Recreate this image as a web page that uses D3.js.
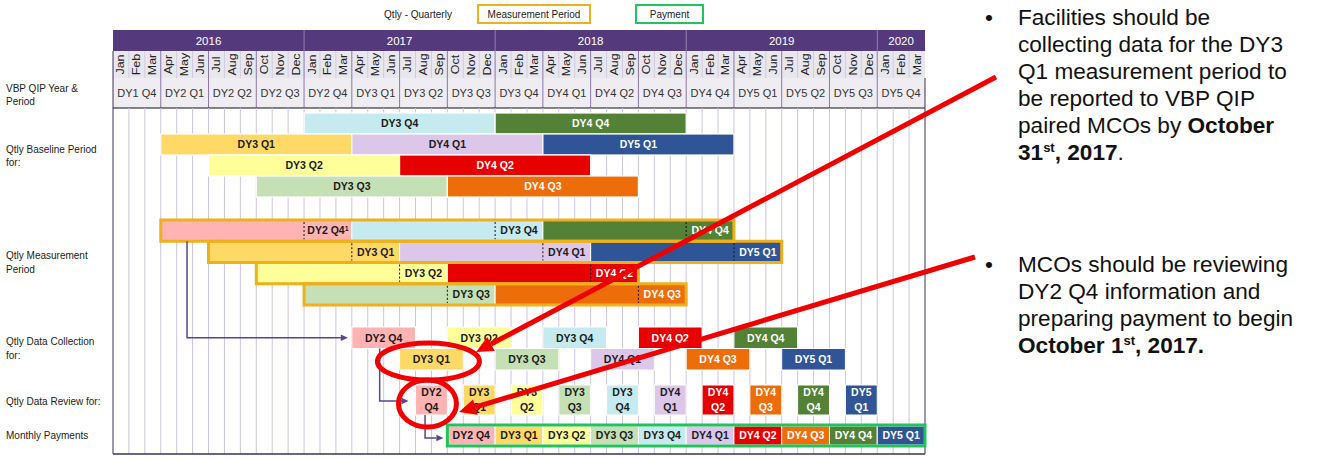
<!DOCTYPE html>
<html lang="en">
<head>
<meta charset="utf-8">
<title>VBP QIP timeline</title>
<script src="https://cdn.jsdelivr.net/npm/d3@7"></script>
<style>
  body { margin: 0; background: #fff; }
  svg { font-family: "Liberation Sans", Arial, sans-serif; }
  .lbl { font-weight: bold; font-size: 10.5px; }
  .side { font-size: 10px; fill: #222; }
  .note { font-size: 22.6px; fill: #111; }
</style>
</head>
<body>
<svg width="1323" height="461"></svg>
<script>
// ---- data (month index 0 = Jan 2016) ----
var years = ["2016", "2017", "2018", "2019", "2020"];
var monthNames = ["Jan","Feb","Mar","Apr","May","Jun","Jul","Aug","Sep","Oct","Nov","Dec"];
var nMonths = 51;
var periods = ["DY1 Q4","DY2 Q1","DY2 Q2","DY2 Q3","DY2 Q4","DY3 Q1","DY3 Q2","DY3 Q3","DY3 Q4",
               "DY4 Q1","DY4 Q2","DY4 Q3","DY4 Q4","DY5 Q1","DY5 Q2","DY5 Q3","DY5 Q4"];
var quarters = ["DY2 Q4","DY3 Q1","DY3 Q2","DY3 Q3","DY3 Q4","DY4 Q1","DY4 Q2","DY4 Q3","DY4 Q4","DY5 Q1"];

var baselineBars = [
  {q: "DY3 Q4", lane: 0, start: 12, end: 24},
  {q: "DY4 Q4", lane: 0, start: 24, end: 36},
  {q: "DY3 Q1", lane: 1, start: 3,  end: 15},
  {q: "DY4 Q1", lane: 1, start: 15, end: 27},
  {q: "DY5 Q1", lane: 1, start: 27, end: 39},
  {q: "DY3 Q2", lane: 2, start: 6,  end: 18},
  {q: "DY4 Q2", lane: 2, start: 18, end: 30},
  {q: "DY3 Q3", lane: 3, start: 9,  end: 21},
  {q: "DY4 Q3", lane: 3, start: 21, end: 33}
];

// measurement bars: baseline part [start, mark], measured quarter [mark, end]
var measureBars = [
  {q: "DY2 Q4", lane: 0, start: 3,  mark: 12, end: 15},
  {q: "DY3 Q4", lane: 0, start: 15, mark: 24, end: 27},
  {q: "DY4 Q4", lane: 0, start: 27, mark: 36, end: 39},
  {q: "DY3 Q1", lane: 1, start: 6,  mark: 15, end: 18},
  {q: "DY4 Q1", lane: 1, start: 18, mark: 27, end: 30},
  {q: "DY5 Q1", lane: 1, start: 30, mark: 39, end: 42},
  {q: "DY3 Q2", lane: 2, start: 9,  mark: 18, end: 21},
  {q: "DY4 Q2", lane: 2, start: 21, mark: 30, end: 33},
  {q: "DY3 Q3", lane: 3, start: 12, mark: 21, end: 24},
  {q: "DY4 Q3", lane: 3, start: 24, mark: 33, end: 36}
];

var collectBars = [
  {q: "DY2 Q4", lane: 0, start: 15, end: 19},
  {q: "DY3 Q2", lane: 0, start: 21, end: 25},
  {q: "DY3 Q4", lane: 0, start: 27, end: 31},
  {q: "DY4 Q2", lane: 0, start: 33, end: 37},
  {q: "DY4 Q4", lane: 0, start: 39, end: 43},
  {q: "DY3 Q1", lane: 1, start: 18, end: 22},
  {q: "DY3 Q3", lane: 1, start: 24, end: 28},
  {q: "DY4 Q1", lane: 1, start: 30, end: 34},
  {q: "DY4 Q3", lane: 1, start: 36, end: 40},
  {q: "DY5 Q1", lane: 1, start: 42, end: 46}
];

// review boxes (2 months) and payment blocks (3 months), one per quarter
var reviewStart  = [19, 22, 25, 28, 31, 34, 37, 40, 43, 46];
var paymentStart = [21, 24, 27, 30, 33, 36, 39, 42, 45, 48];

// ---- styles ----
var quarterColor = d3.scaleOrdinal().domain(quarters)
  .range(["#ffb3b3","#ffd966","#ffff99","#c5e0b4","#c5ebf0","#dcc6ea","#e60000","#ed6d0b","#538135","#2f5597"]);
var darkQuarters = ["DY4 Q2","DY4 Q3","DY4 Q4","DY5 Q1"];
function textColor(q) { return darkQuarters.indexOf(q) >= 0 ? "#fff" : "#1a1a1a"; }

var purple = "#55397d";
var svg = d3.select("svg");
var x = d3.scaleLinear().domain([0, nMonths]).range([113, 925]);

var yearTop = 30, monthTop = 51, periodTop = 78, bodyTop = 108, bodyBottom = 454;
var yBase = d3.scaleLinear().domain([0, 4]).range([113, 197]);
var yMeas = d3.scaleLinear().domain([0, 4]).range([220, 305]);
var yColl = d3.scaleLinear().domain([0, 2]).range([327, 370]);
var review = {top: 385, h: 30};
var pay = {top: 426, h: 19};

// ---- legend ----
svg.append("text").attr("class", "side").attr("x", 418).attr("y", 18)
   .attr("text-anchor", "middle").text("Qtly - Quarterly");
[{t: "Measurement Period", x0: 478, x1: 590, c: "#eab21f"},
 {t: "Payment", x0: 636, x1: 703, c: "#22c35e"}].forEach(function(l) {
  svg.append("rect").attr("x", l.x0).attr("y", 5).attr("width", l.x1 - l.x0).attr("height", 18)
     .attr("fill", "none").attr("stroke", l.c).attr("stroke-width", 2);
  svg.append("text").attr("class", "side").attr("x", (l.x0 + l.x1) / 2).attr("y", 18)
     .attr("text-anchor", "middle").text(l.t);
});

// ---- header ----
var head = svg.append("g");
head.selectAll(".yr").data(years).enter().append("rect")
   .attr("x", function(d, i) { return x(i * 12); })
   .attr("width", function(d, i) { return x(Math.min(i * 12 + 12, nMonths)) - x(i * 12); })
   .attr("y", yearTop).attr("height", monthTop - yearTop).attr("fill", purple);
head.selectAll(".yrsep").data(years.slice(1)).enter().append("line")
   .attr("x1", function(d, i) { return x((i + 1) * 12); }).attr("x2", function(d, i) { return x((i + 1) * 12); })
   .attr("y1", yearTop).attr("y2", monthTop).attr("stroke", "#8b78ad");
head.selectAll(".yrt").data(years).enter().append("text")
   .attr("x", function(d, i) { return (x(i * 12) + x(Math.min(i * 12 + 12, nMonths))) / 2; })
   .attr("y", 44.5).attr("text-anchor", "middle").attr("fill", "#fff").attr("font-size", "11.5px").text(function(d) { return d; });

head.append("rect").attr("x", x(0)).attr("width", x(nMonths) - x(0)).attr("y", monthTop)
   .attr("height", periodTop - monthTop).attr("fill", "#e9e7ee");
head.append("rect").attr("x", x(0)).attr("width", x(nMonths) - x(0)).attr("y", periodTop)
   .attr("height", bodyTop - periodTop).attr("fill", "#efedf2");

var months = d3.range(nMonths);
head.selectAll(".msep").data(months.slice(1)).enter().append("line")
   .attr("x1", function(d) { return x(d); }).attr("x2", function(d) { return x(d); })
   .attr("y1", monthTop).attr("y2", periodTop)
   .attr("stroke", function(d) { return d % 3 === 0 ? "#8a76b0" : "#d2cbe0"; });
head.selectAll(".mt").data(months).enter().append("text")
   .attr("transform", function(d) { return "translate(" + (x(d + 0.5) + 3.5) + "," + 64.5 + ") rotate(-90) scale(1.25,1)"; })
   .attr("text-anchor", "middle").attr("font-size", "10px").attr("fill", "#222")
   .text(function(d) { return monthNames[d % 12]; });

head.selectAll(".psep").data(periods.slice(1)).enter().append("line")
   .attr("x1", function(d, i) { return x((i + 1) * 3); }).attr("x2", function(d, i) { return x((i + 1) * 3); })
   .attr("y1", periodTop).attr("y2", bodyTop).attr("stroke", "#8a76b0");
head.selectAll(".pt").data(periods).enter().append("text")
   .attr("x", function(d, i) { return x(i * 3 + 1.5); }).attr("y", 97)
   .attr("text-anchor", "middle").attr("font-size", "11px").attr("fill", "#333")
   .text(function(d) { return d; });
head.append("line").attr("x1", x(0)).attr("x2", x(nMonths)).attr("y1", bodyTop).attr("y2", bodyTop)
   .attr("stroke", "#111").attr("stroke-width", 1.2);

// ---- body grid ----
var body = svg.append("g");
body.selectAll(".grid").data(months.slice(1)).enter().append("line")
   .attr("x1", function(d) { return x(d); }).attr("x2", function(d) { return x(d); })
   .attr("y1", bodyTop).attr("y2", bodyBottom).attr("stroke", "#cdc4e0");
body.append("line").attr("x1", x(0)).attr("x2", x(0)).attr("y1", monthTop).attr("y2", bodyBottom).attr("stroke", "#3d2f5a");
body.append("line").attr("x1", x(nMonths)).attr("x2", x(nMonths)).attr("y1", periodTop).attr("y2", bodyBottom).attr("stroke", "#3d2f5a");
body.append("line").attr("x1", x(0)).attr("x2", x(nMonths)).attr("y1", bodyBottom).attr("y2", bodyBottom).attr("stroke", "#3d2f5a").attr("stroke-width", 1.5);

// ---- left labels ----
var sideLabels = [
  {lines: ["VBP QIP Year &", "Period"], y: 91.5},
  {lines: ["Qtly Baseline Period", "for:"], y: 152.5},
  {lines: ["Qtly Measurement", "Period"], y: 259},
  {lines: ["Qtly Data Collection", "for:"], y: 345},
  {lines: ["Qtly Data Review for:"], y: 405},
  {lines: ["Monthly Payments"], y: 439}
];
sideLabels.forEach(function(s) {
  var t = svg.append("text").attr("class", "side").attr("x", 6).attr("y", s.y);
  s.lines.forEach(function(l, i) {
    t.append("tspan").attr("x", 6).attr("dy", i === 0 ? 0 : 13.5).text(l);
  });
});

// ---- bars ----
function barLabel(g, q, cx, cy) {
  return g.append("text").attr("class", "lbl").attr("x", cx).attr("y", cy).attr("dy", "0.36em")
    .attr("text-anchor", "middle").attr("fill", textColor(q)).text(q);
}

var gb = svg.append("g");
baselineBars.forEach(function(d) {
  var y0 = yBase(d.lane), h = yBase(d.lane + 1) - y0;
  gb.append("rect").attr("x", x(d.start)).attr("y", y0).attr("width", x(d.end) - x(d.start)).attr("height", h)
    .attr("fill", quarterColor(d.q)).attr("stroke", "#fff").attr("stroke-width", 1.2);
  barLabel(gb, d.q, x((d.start + d.end) / 2), y0 + h / 2);
});

var gm = svg.append("g");
measureBars.forEach(function(d) {
  var y0 = yMeas(d.lane), h = yMeas(d.lane + 1) - y0;
  gm.append("rect").attr("x", x(d.start)).attr("y", y0).attr("width", x(d.end) - x(d.start)).attr("height", h)
    .attr("fill", quarterColor(d.q)).attr("stroke", "#fff").attr("stroke-width", 1);
  gm.append("line").attr("x1", x(d.mark)).attr("x2", x(d.mark)).attr("y1", y0 + 2).attr("y2", y0 + h - 2)
    .attr("stroke", "#111").attr("stroke-dasharray", "2,2");
  var t = barLabel(gm, d.q, x((d.mark + d.end) / 2), y0 + h / 2);
  if (d.q === "DY2 Q4") {
    t.append("tspan").attr("font-size", "7px").attr("dy", "-0.5em").text("1");
  }
});
var lanes = d3.rollups(measureBars, function(v) {
  return [d3.min(v, function(d) { return d.start; }), d3.max(v, function(d) { return d.end; })];
}, function(d) { return d.lane; });
lanes.forEach(function(l) {
  var y0 = yMeas(l[0]), h = yMeas(l[0] + 1) - y0;
  gm.append("rect").attr("x", x(l[1][0])).attr("y", y0).attr("width", x(l[1][1]) - x(l[1][0])).attr("height", h)
    .attr("fill", "none").attr("stroke", "#f0b01c").attr("stroke-width", 3);
});

var gc = svg.append("g");
collectBars.forEach(function(d) {
  var y0 = yColl(d.lane), h = yColl(d.lane + 1) - y0;
  gc.append("rect").attr("x", x(d.start)).attr("y", y0).attr("width", x(d.end) - x(d.start)).attr("height", h)
    .attr("fill", quarterColor(d.q)).attr("stroke", "#fff").attr("stroke-width", 1);
  barLabel(gc, d.q, x((d.start + d.end) / 2), y0 + h / 2);
});

var gr = svg.append("g");
quarters.forEach(function(q, i) {
  var s = reviewStart[i];
  gr.append("rect").attr("x", x(s)).attr("y", review.top).attr("width", x(s + 2) - x(s)).attr("height", review.h)
    .attr("fill", quarterColor(q)).attr("stroke", "#fff").attr("stroke-width", 1);
  var parts = q.split(" ");
  var t = gr.append("text").attr("class", "lbl").attr("text-anchor", "middle").attr("fill", textColor(q));
  t.append("tspan").attr("x", x(s + 1)).attr("y", review.top + 11).text(parts[0]);
  t.append("tspan").attr("x", x(s + 1)).attr("y", review.top + 26).text(parts[1]);
});

var gp = svg.append("g");
quarters.forEach(function(q, i) {
  var s = paymentStart[i];
  gp.append("rect").attr("x", x(s)).attr("y", pay.top).attr("width", x(s + 3) - x(s)).attr("height", pay.h)
    .attr("fill", quarterColor(q)).attr("stroke", "#fff").attr("stroke-width", 1);
  barLabel(gp, q, x(s + 1.5), pay.top + pay.h / 2);
});
gp.append("rect").attr("x", x(paymentStart[0])).attr("y", pay.top - 1)
  .attr("width", x(nMonths) - x(paymentStart[0])).attr("height", pay.h + 2)
  .attr("fill", "none").attr("stroke", "#22c35e").attr("stroke-width", 3);

// ---- flow arrows ----
var ga = svg.append("g");
function elbow(px, y0, y1, x1, color, w, head) {
  ga.append("path").attr("d", "M" + px + "," + y0 + "V" + y1 + "H" + (x1 - head))
    .attr("fill", "none").attr("stroke", color).attr("stroke-width", w);
  ga.append("path").attr("d", "M" + x1 + "," + y1 + "l" + (-head) + "," + (-head * 0.45) + "v" + (head * 0.9) + "z")
    .attr("fill", color);
}
var flow = "#5b4390";
elbow(x(4.65), yMeas(1), yColl(0.5), x(collectBars[0].start) - 4, flow, 1.5, 7);
elbow(x(16.75), yColl(1), review.top + 16, x(reviewStart[0]) - 7, flow, 1.5, 7);
elbow(x(19.6), review.top + review.h, pay.top + 12, x(paymentStart[0]) - 4, flow, 1.5, 7);

// ---- red call-outs ----
var red = "#f00000";
var gn = svg.append("g");
gn.append("ellipse").attr("cx", x(20) - 3).attr("cy", 361.5).attr("rx", 51).attr("ry", 18.5)
  .attr("fill", "none").attr("stroke", red).attr("stroke-width", 5);
gn.append("ellipse").attr("cx", x(19.5) + 4).attr("cy", 403.5).attr("rx", 29).attr("ry", 23.5)
  .attr("fill", "none").attr("stroke", red).attr("stroke-width", 5);
function redArrow(x0, y0, x1, y1) {
  var a = Math.atan2(y1 - y0, x1 - x0), L = 17, W = 8;
  var bx = x1 - L * Math.cos(a), by = y1 - L * Math.sin(a);
  gn.append("line").attr("x1", x0).attr("y1", y0).attr("x2", bx).attr("y2", by)
    .attr("stroke", red).attr("stroke-width", 5);
  var px = -Math.sin(a) * W, py = Math.cos(a) * W;
  gn.append("path").attr("d", "M" + x1 + "," + y1 + "L" + (bx + px) + "," + (by + py) + "L" + (bx - px) + "," + (by - py) + "Z")
    .attr("fill", red);
}
redArrow(996, 77, 476, 352);
redArrow(975, 257, 459, 412);

// ---- notes ----
var gt = svg.append("g").attr("class", "note");
function note(lines, y0) {
  gt.append("text").attr("x", 989).attr("y", y0).attr("text-anchor", "middle").text("\u2022");
  lines.forEach(function(parts, i) {
    var t = gt.append("text").attr("x", 1018).attr("y", y0 + i * 27);
    parts.forEach(function(p) {
      var s = t.append("tspan").text(p.t);
      if (p.b) s.attr("font-weight", "bold");
      if (p.sup) s.attr("font-size", "13px").attr("dy", -8);
      if (p.down) s.attr("dy", 8);
    });
  });
}
note([
  [{t: "Facilities should be"}],
  [{t: "collecting data for the DY3"}],
  [{t: "Q1 measurement period to"}],
  [{t: "be reported to VBP QIP"}],
  [{t: "paired MCOs by "}, {t: "October", b: true}],
  [{t: "31", b: true}, {t: "st", b: true, sup: true}, {t: ", 2017", b: true, down: true}, {t: "."}]
], 24.5);
note([
  [{t: "MCOs should be reviewing"}],
  [{t: "DY2 Q4 information and"}],
  [{t: "preparing payment to begin"}],
  [{t: "October 1", b: true}, {t: "st", b: true, sup: true}, {t: ", 2017.", b: true, down: true}]
], 271.5);
</script>
</body>
</html>
